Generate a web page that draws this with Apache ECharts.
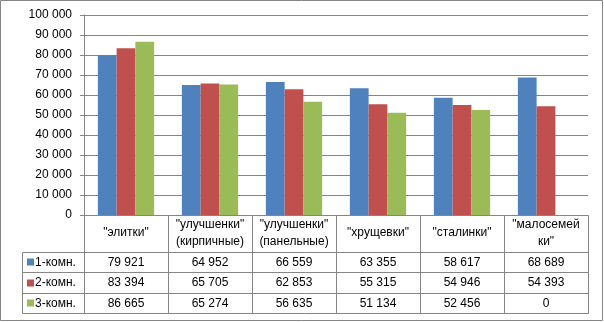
<!DOCTYPE html>
<html><head><meta charset="utf-8">
<script src="https://cdn.jsdelivr.net/npm/echarts@6/dist/echarts.min.js"></script>
<style>html,body{margin:0;padding:0;background:#fff}#c{width:604px;height:322px}</style>
</head><body><div id="c"></div>
<script>
const categories = ['"элитки"', '"улучшенки"\n(кирпичные)', '"улучшенки"\n(панельные)', '"хрущевки"', '"сталинки"', '"малосемей\nки"'];
const seriesNames = ['1-комн.', '2-комн.', '3-комн.'];
const room1 = [79921, 64952, 66559, 63355, 58617, 68689];
const room2 = [83394, 65705, 62853, 55315, 54946, 54393];
const room3 = [86665, 65274, 56635, 51134, 52456, 0];
const yTicks = [0, 10000, 20000, 30000, 40000, 50000, 60000, 70000, 80000, 90000, 100000];
const colors = ['#4F81BD', '#C0504D', '#9BBB59'];
const seriesData = [room1, room2, room3];

const FONT = 'Liberation Sans';
const FS = 12;
const lineColor = '#868686';
const fmt = v => String(v).replace(/\B(?=(\d{3})+(?!\d))/g, ' ');

const chart = echarts.init(document.getElementById('c'), null, {renderer: 'canvas'});
chart.setOption({
  animation: false,
  textStyle: {fontFamily: FONT},
  grid: {left: 84, right: 16, top: 15, bottom: 107, containLabel: false},
  xAxis: {
    type: 'category', data: categories,
    axisLine: {show: true, lineStyle: {color: lineColor}},
    axisTick: {show: false},
    axisLabel: {margin: 18, verticalAlign: 'middle', lineHeight: 17, fontSize: FS, color: '#000', fontFamily: FONT, interval: 0}
  },
  yAxis: {
    type: 'value', min: yTicks[0], max: yTicks[yTicks.length - 1], interval: yTicks[1] - yTicks[0],
    axisLine: {show: true, lineStyle: {color: lineColor}},
    axisTick: {show: true, length: 4, lineStyle: {color: lineColor}},
    splitLine: {show: true, lineStyle: {color: lineColor}},
    axisLabel: {margin: 12, fontSize: FS, color: '#000', fontFamily: FONT, formatter: fmt}
  },
  series: seriesNames.map((n, i) => ({
    name: n, type: 'bar', data: seriesData[i], barGap: '0%', barCategoryGap: '33%',
    itemStyle: {color: colors[i]}
  }))
});

// Data table built from the arrays, positioned by the axis scales
const c0 = chart.convertToPixel({xAxisIndex: 0}, 0);
const c1 = chart.convertToPixel({xAxisIndex: 0}, 1);
const catW = c1 - c0;
const xLeft = c0 - catW / 2;
const xRight = xLeft + catW * categories.length;
const yAxis0 = chart.convertToPixel({yAxisIndex: 0}, 0);
const headerH = 37, rowH = 20.5, legendLeft = 22.5;
const px = v => Math.round(v - 0.5) + 0.5;
const g = [];
const hl = (x1, x2, y) => g.push({type: 'line', silent: true, shape: {x1: px(x1), y1: px(y), x2: px(x2), y2: px(y)}, style: {stroke: lineColor, lineWidth: 1}});
const vl = (x, y1, y2) => g.push({type: 'line', silent: true, shape: {x1: px(x), y1: px(y1), x2: px(x), y2: px(y2)}, style: {stroke: lineColor, lineWidth: 1}});
const yBottom = yAxis0 + headerH + rowH * seriesNames.length;
for (let i = 0; i <= categories.length; i++) vl(xLeft + catW * i, yAxis0, yBottom);
vl(legendLeft, yAxis0 + headerH, yBottom);
for (let r = 0; r <= seriesNames.length; r++) hl(legendLeft, xRight, yAxis0 + headerH + rowH * r);
seriesNames.forEach((n, r) => {
  const cy = yAxis0 + headerH + rowH * r + rowH / 2;
  g.push({type: 'rect', silent: true, shape: {x: 27, y: Math.round(cy) - 3.5, width: 7, height: 7}, style: {fill: colors[r]}});
  g.push({type: 'text', silent: true, x: 35, y: cy, style: {text: n, font: FS + 'px "' + FONT + '"', fill: '#000', verticalAlign: 'middle', align: 'left'}});
  seriesData[r].forEach((v, i) => {
    g.push({type: 'text', silent: true, x: chart.convertToPixel({xAxisIndex: 0}, i), y: cy, style: {text: fmt(v), font: FS + 'px "' + FONT + '"', fill: '#000', verticalAlign: 'middle', align: 'center'}});
  });
});
g.push({type: 'rect', silent: true, shape: {x: 0.5, y: 0.5, width: 602, height: 320}, style: {fill: 'none', stroke: lineColor, lineWidth: 1}});
chart.setOption({graphic: g});
</script>
</body></html>
